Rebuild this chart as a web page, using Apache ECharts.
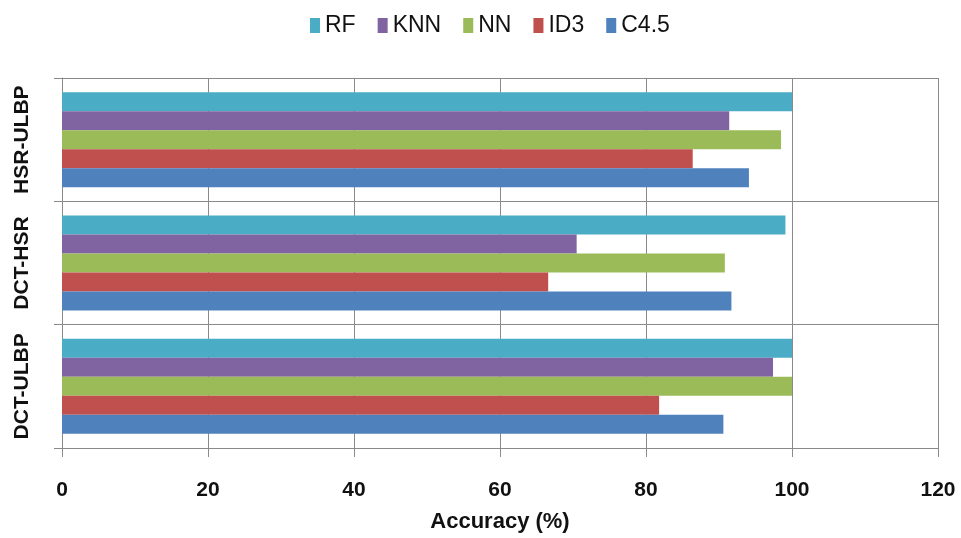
<!DOCTYPE html>
<html>
<head>
<meta charset="utf-8">
<script src="https://cdn.jsdelivr.net/npm/echarts@6/dist/echarts.min.js"></script>
<style>
html,body{margin:0;padding:0;background:#fff;}
#chart{width:961px;height:538px;}
</style>
</head>
<body>
<div id="chart"></div>
<script>
// Data
var categories = ['DCT-ULBP', 'DCT-HSR', 'HSR-ULBP'];
var legendOrder = ['RF', 'KNN', 'NN', 'ID3', 'C4.5'];
var c45 = [90.6, 91.7, 94.1];
var id3 = [81.8, 66.6, 86.4];
var nn  = [100, 90.8, 98.5];
var knn = [97.4, 70.5, 91.4];
var rf  = [100, 99.1, 100];
var xTicks = [0, 20, 40, 60, 80, 100, 120];

var colors = {
  'RF': '#4BACC6',
  'KNN': '#8064A2',
  'NN': '#9BBB59',
  'ID3': '#C0504D',
  'C4.5': '#4F81BD'
};
var seriesDefs = [
  ['RF', rf], ['KNN', knn], ['NN', nn], ['ID3', id3], ['C4.5', c45]
];
var font = 'Liberation Sans, Arial, sans-serif';
var lineColor = '#8a8a8a';

var chart = echarts.init(document.getElementById('chart'), null, {renderer: 'canvas'});
chart.setOption({
  animation: false,
  backgroundColor: '#ffffff',
  legend: {
    data: legendOrder,
    top: 9,
    left: 305,
    itemWidth: 10,
    itemHeight: 15,
    itemGap: 22,
    textStyle: {fontFamily: font, fontSize: 23, color: '#111'},
    icon: 'rect'
  },
  grid: {left: 62, right: 23, top: 78, bottom: 87, containLabel: false},
  xAxis: {
    type: 'value',
    min: xTicks[0],
    max: xTicks[xTicks.length - 1],
    interval: xTicks[1] - xTicks[0],
    name: 'Accuracy (%)',
    nameLocation: 'middle',
    nameGap: 63,
    nameTextStyle: {fontFamily: font, fontSize: 22, fontWeight: 'bold', color: '#111'},
    axisLine: {show: true, lineStyle: {color: lineColor, width: 1}},
    axisTick: {show: true, length: 9, lineStyle: {color: lineColor}},
    axisLabel: {margin: 32, fontFamily: font, fontSize: 21, fontWeight: 'bold', color: '#111'},
    splitLine: {show: true, lineStyle: {color: lineColor, width: 1}}
  },
  yAxis: {
    type: 'category',
    data: categories,
    axisLine: {show: true, lineStyle: {color: lineColor, width: 1}},
    axisTick: {show: true, interval: 0, length: 8, lineStyle: {color: lineColor}},
    axisLabel: {interval: 0, rotate: 90, margin: 29, fontFamily: font, fontSize: 21, fontWeight: 'bold', color: '#111'},
    splitLine: {show: true, interval: 0, lineStyle: {color: lineColor, width: 1}}
  },
  series: seriesDefs.map(function (d) {
    return {
      name: d[0],
      type: 'bar',
      data: d[1],
      barGap: '0%',
      barCategoryGap: '23%',
      itemStyle: {color: colors[d[0]]}
    };
  })
});
</script>
</body>
</html>
